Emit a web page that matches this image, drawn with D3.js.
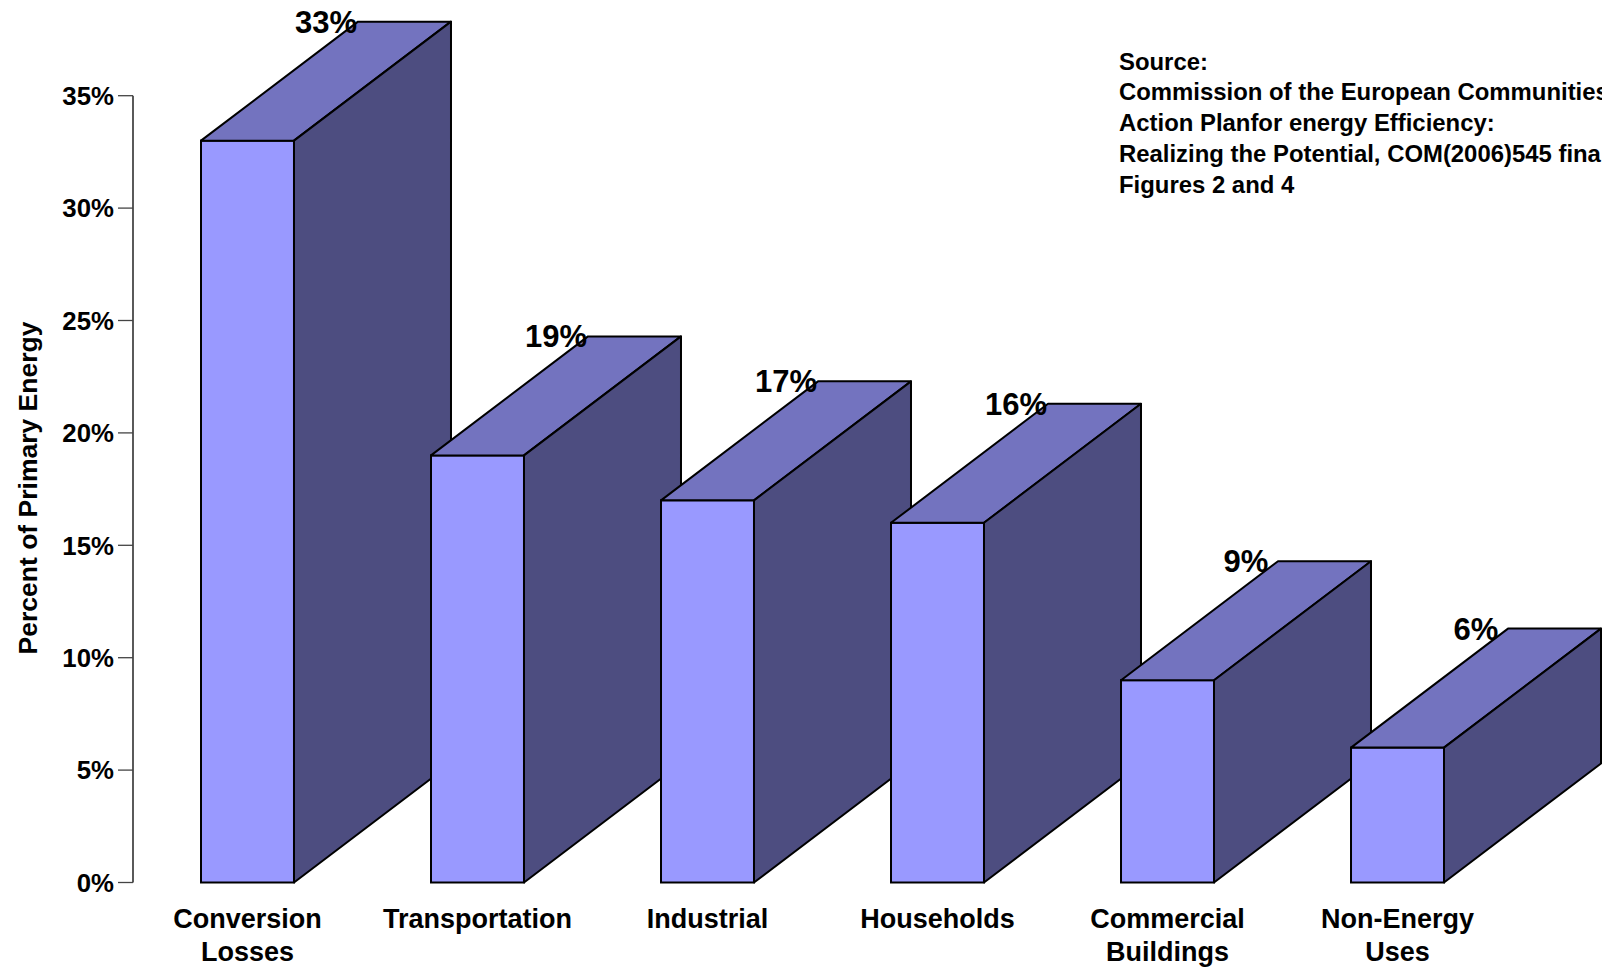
<!DOCTYPE html>
<html>
<head>
<meta charset="utf-8">
<script src="https://cdn.jsdelivr.net/npm/d3@7"></script>
<style>
  html, body { margin: 0; padding: 0; background: #fff; }
  svg { display: block; font-family: "Liberation Sans", Arial, sans-serif; font-weight: bold; }
</style>
</head>
<body>
<svg id="chart" width="1602" height="968"></svg>
<script>
// Share of primary energy by end use
const categories = ["Conversion Losses", "Transportation", "Industrial", "Households", "Commercial Buildings", "Non-Energy Uses"];
const categoryLines = [["Conversion", "Losses"], ["Transportation"], ["Industrial"], ["Households"], ["Commercial", "Buildings"], ["Non-Energy", "Uses"]];
const values = [33, 19, 17, 16, 9, 6];
const yTicks = [0, 5, 10, 15, 20, 25, 30, 35];
const sourceLines = [
  "Source:",
  "Commission of the European Communities",
  "Action Planfor energy Efficiency:",
  "Realizing the Potential, COM(2006)545 final",
  "Figures 2 and 4"
];

const svg = d3.select("#chart");

const y = d3.scaleLinear().domain([0, 35]).range([882.5, 95.7]);
const x = d3.scaleBand().domain(categories).range([201, 1444]).paddingInner(0.5957).paddingOuter(0);

// depth of the 3D extrusion
const dx = 157, dy = 119;

const colFront = "#9999ff", colTop = "#7373bf", colSide = "#4d4d80";

// y axis
const axis = svg.append("g");
axis.append("line")
  .attr("x1", 133).attr("x2", 133)
  .attr("y1", y(35)).attr("y2", y(0))
  .attr("stroke", "#000").attr("stroke-width", 1.3);
axis.selectAll("line.tick").data(yTicks).join("line")
  .attr("class", "tick")
  .attr("x1", 118).attr("x2", 133)
  .attr("y1", d => y(d)).attr("y2", d => y(d))
  .attr("stroke", "#444").attr("stroke-width", 1.3);
axis.selectAll("text").data(yTicks).join("text")
  .attr("x", 114).attr("y", d => y(d) + 9.2)
  .attr("text-anchor", "end")
  .attr("font-size", 25.8)
  .text(d => d + "%");

svg.append("text")
  .attr("transform", "translate(37,488) rotate(-90)")
  .attr("text-anchor", "middle")
  .attr("font-size", 26.5)
  .text("Percent of Primary Energy");

// bars: front face, top face, side face
const bars = svg.append("g");
categories.forEach((c, i) => {
  const x0 = x(c), x1 = x0 + x.bandwidth();
  const yt = y(values[i]), yb = y(0);
  const g = bars.append("g");
  g.append("rect")
    .attr("x", x0).attr("y", yt)
    .attr("width", x1 - x0).attr("height", yb - yt)
    .attr("fill", colFront).attr("stroke", "#000").attr("stroke-width", 2);
  g.append("path")
    .attr("d", `M${x0},${yt}L${x0 + dx},${yt - dy}L${x1 + dx},${yt - dy}L${x1},${yt}Z`)
    .attr("fill", colTop).attr("stroke", "#000").attr("stroke-width", 2).attr("stroke-linejoin", "round");
  g.append("path")
    .attr("d", `M${x1},${yt}L${x1 + dx},${yt - dy}L${x1 + dx},${yb - dy}L${x1},${yb}Z`)
    .attr("fill", colSide).attr("stroke", "#000").attr("stroke-width", 2).attr("stroke-linejoin", "round");
});

// value labels at the back-left top corner
svg.append("g").selectAll("text").data(categories).join("text")
  .attr("x", (c) => x(c) + dx - 32)
  .attr("y", (c, i) => y(values[i]) - dy + 11)
  .attr("text-anchor", "middle")
  .attr("font-size", 31)
  .text((c, i) => values[i] + "%");

// category labels
categoryLines.forEach((lines, i) => {
  const cx = x(categories[i]) + x.bandwidth() / 2;
  const t = svg.append("text")
    .attr("text-anchor", "middle")
    .attr("font-size", 27);
  lines.forEach((ln, j) => {
    t.append("tspan").attr("x", cx).attr("y", 928 + j * 33).text(ln);
  });
});

// source note
svg.append("g").selectAll("text").data(sourceLines).join("text")
  .attr("x", 1119)
  .attr("y", (d, i) => 69.5 + i * 30.9)
  .attr("font-size", 23.9)
  .text(d => d);
</script>
</body>
</html>
